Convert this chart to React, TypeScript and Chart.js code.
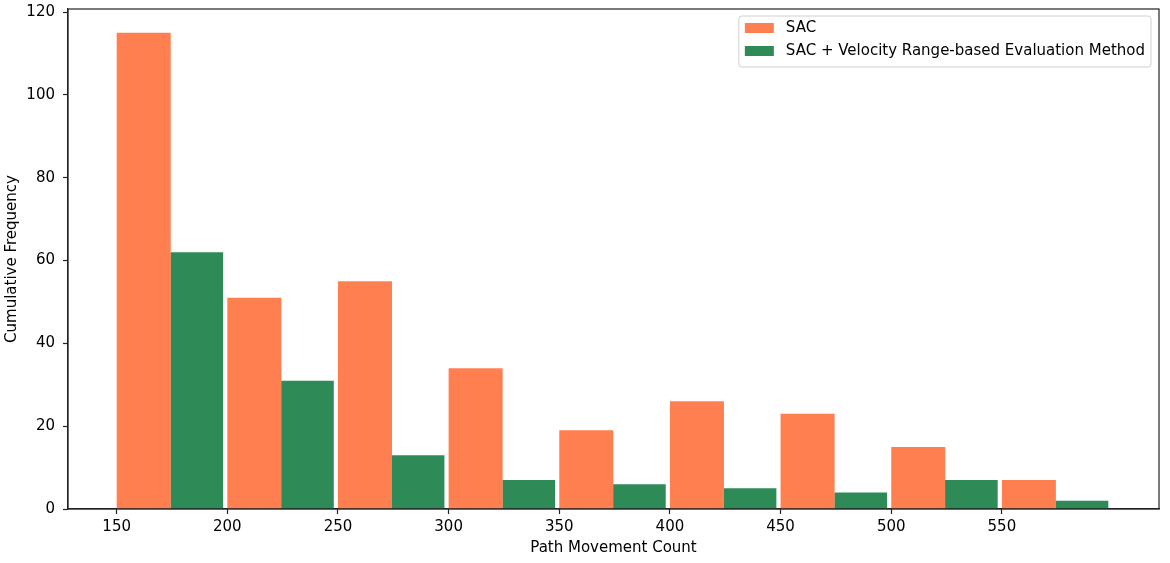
import { useEffect, useRef } from "react";
import { Chart, registerables } from "chart.js";
import type { Plugin } from "chart.js";

Chart.register(...registerables);

// histogram bins (left edge of each 50-wide bin)
const binStarts = [150, 200, 250, 300, 350, 400, 450, 500, 550];
const sacCounts = [115, 51, 55, 34, 19, 26, 23, 15, 7];
const vrbCounts = [62, 31, 13, 7, 6, 5, 4, 7, 2];
const seriesLabels = ["SAC", "SAC + Velocity Range-based Evaluation Method"];
const xTickValues = [150, 200, 250, 300, 350, 400, 450, 500, 550];
const yTickValues = [0, 20, 40, 60, 80, 100, 120];

const CORAL = "#FF7F50";
const SEAGREEN = "#2E8B57";
const FONT = "'DejaVu Sans', sans-serif";
const FS = 15;

// full box around the plot like matplotlib spines
const frame: Plugin<"bar"> = {
  id: "frame",
  afterDraw(chart) {
    const { ctx, chartArea: a } = chart;
    ctx.save();
    ctx.strokeStyle = "#222";
    ctx.lineWidth = 1.2;
    ctx.strokeRect(a.left, a.top, a.right - a.left, a.bottom - a.top);
    ctx.restore();
  },
};

// legend box in the upper right corner
const boxLegend: Plugin<"bar"> = {
  id: "boxLegend",
  afterDraw(chart) {
    const { ctx, chartArea: a } = chart;
    const sets = chart.data.datasets;
    ctx.save();
    ctx.font = `${FS}px ${FONT}`;
    const textW = Math.max(...sets.map((d) => ctx.measureText(String(d.label)).width));
    const pad = 6;
    const handle = 29;
    const gap = 12;
    const rowH = 23;
    const w = pad + handle + gap + textW + pad;
    const h = 51;
    const x = a.right - 8 - w;
    const y = a.top + 7;
    ctx.beginPath();
    ctx.roundRect(x, y, w, h, 3);
    ctx.fillStyle = "rgba(255,255,255,0.8)";
    ctx.fill();
    ctx.strokeStyle = "#d0d0d0";
    ctx.lineWidth = 1;
    ctx.stroke();
    sets.forEach((d, i) => {
      const cy = y + 12 + i * rowH;
      ctx.fillStyle = d.backgroundColor as string;
      ctx.fillRect(x + pad, cy - 5, handle, 10);
      ctx.fillStyle = "#000";
      ctx.textBaseline = "middle";
      ctx.textAlign = "left";
      ctx.fillText(String(d.label), x + pad + handle + gap, cy);
    });
    ctx.restore();
  },
};

const App = () => {
  const canvasRef = useRef<HTMLCanvasElement | null>(null);

  useEffect(() => {
    if (!canvasRef.current) return;

    const chart = new Chart(canvasRef.current, {
      type: "bar",
      data: {
        datasets: [
          {
            label: seriesLabels[0],
            data: binStarts.map((s, i) => ({ x: s + 12.2, y: sacCounts[i] })),
            backgroundColor: CORAL,
            barPercentage: 1.017,
            categoryPercentage: 1,
            grouped: false,
            borderWidth: 0,
          },
          {
            label: seriesLabels[1],
            data: binStarts.map((s, i) => ({ x: s + 36.2, y: vrbCounts[i] })),
            backgroundColor: SEAGREEN,
            barPercentage: 0.992,
            categoryPercentage: 1,
            grouped: false,
            borderWidth: 0,
          },
        ],
      },
      options: {
        responsive: true,
        maintainAspectRatio: false,
        animation: false,
        layout: { padding: { left: 0, right: 11, top: 9, bottom: 0 } },
        plugins: {
          legend: { display: false },
          tooltip: { enabled: false },
        },
        scales: {
          x: {
            type: "linear",
            min: 128,
            max: 621,
            offset: false,
            afterBuildTicks: (scale) => {
              scale.ticks = xTickValues.map((v) => ({ value: v }));
            },
            afterFit: (scale) => {
              scale.height = 54;
              scale.paddingLeft = 0;
              scale.paddingRight = 0;
            },
            grid: {
              offset: false,
              drawOnChartArea: false,
              drawTicks: true,
              tickLength: 5,
              tickColor: "#222",
              tickWidth: 1.2,
            },
            border: { display: true, color: "#222", width: 1.2 },
            ticks: {
              color: "#000",
              padding: 4,
              maxRotation: 0,
              font: { family: FONT, size: FS },
              callback: (v) => String(v),
            },
            title: {
              display: true,
              text: "Path Movement Count",
              color: "#000",
              font: { family: FONT, size: FS },
              padding: { top: 0, bottom: 6 },
            },
          },
          y: {
            type: "linear",
            min: 0,
            max: 120.75,
            afterBuildTicks: (scale) => {
              scale.ticks = yTickValues.map((v) => ({ value: v }));
            },
            afterFit: (scale) => {
              scale.width = 68;
              scale.paddingTop = 0;
              scale.paddingBottom = 0;
            },
            grid: {
              drawOnChartArea: false,
              drawTicks: true,
              tickLength: 5,
              tickColor: "#222",
              tickWidth: 1.2,
            },
            border: { display: true, color: "#222", width: 1.2 },
            ticks: {
              color: "#000",
              padding: 8,
              font: { family: FONT, size: FS },
              callback: (v) => String(v),
            },
            title: {
              display: true,
              text: "Cumulative Frequency",
              color: "#000",
              font: { family: FONT, size: FS },
              padding: { top: 3, bottom: 0 },
            },
          },
        },
      },
      plugins: [frame, boxLegend],
    });

    return () => {
      chart.destroy();
    };
  }, []);

  return (
    <div style={{ position: "fixed", left: 0, top: 0, width: 1170, height: 563, background: "#fff" }}>
      <canvas ref={canvasRef} />
    </div>
  );
};

export default App;
